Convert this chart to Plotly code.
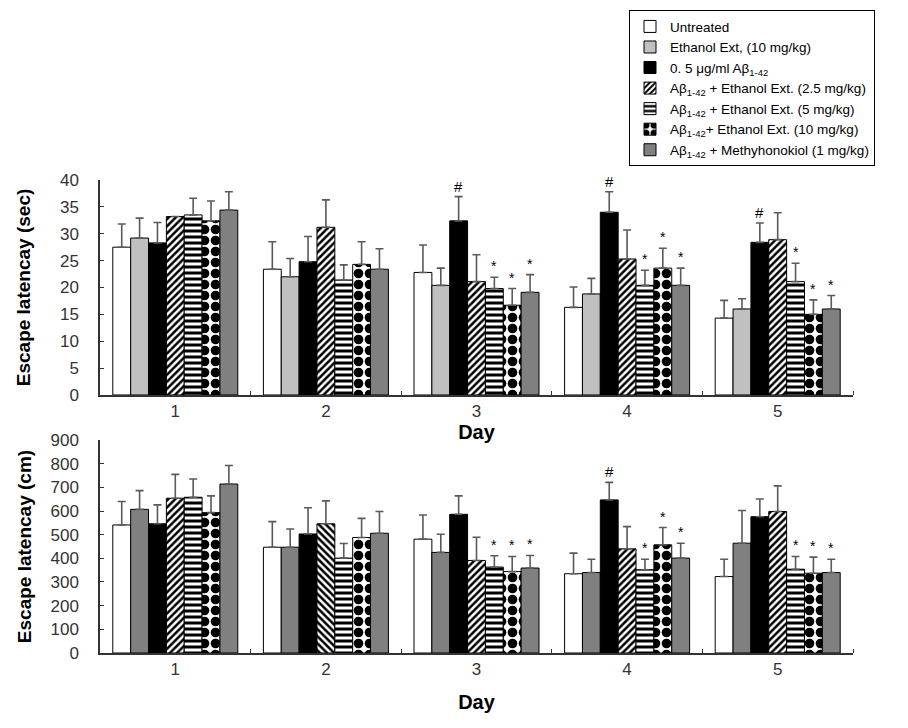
import plotly.graph_objects as go

days = [1, 2, 3, 4, 5]
series_names = [
    "Untreated",
    "Ethanol Ext, (10 mg/kg)",
    "0. 5 μg/ml Aβ<sub>1-42</sub>",
    "Aβ<sub>1-42</sub> + Ethanol Ext. (2.5 mg/kg)",
    "Aβ<sub>1-42</sub> + Ethanol Ext. (5 mg/kg)",
    "Aβ<sub>1-42</sub>+ Ethanol Ext. (10 mg/kg)",
    "Aβ<sub>1-42</sub> + Methyhonokiol (1 mg/kg)",
]

# Escape latency (sec) means and SD (upper error)
sec_untreated = [27.5, 23.4, 22.8, 16.3, 14.3]
sec_ethanol = [29.2, 22.0, 20.4, 18.8, 16.0]
sec_abeta = [28.3, 24.8, 32.4, 34.0, 28.4]
sec_ee25 = [33.2, 31.2, 21.1, 25.3, 28.9]
sec_ee5 = [33.5, 21.4, 19.8, 20.4, 21.1]
sec_ee10 = [32.4, 24.3, 16.7, 23.6, 15.0]
sec_mh = [34.4, 23.4, 19.1, 20.4, 16.0]

sec_err_untreated = [4.3, 5.1, 5.1, 3.8, 3.3]
sec_err_ethanol = [3.7, 3.4, 3.2, 2.9, 1.9]
sec_err_abeta = [3.8, 4.7, 4.5, 3.8, 3.6]
sec_err_ee25 = [None, 5.1, 5.0, 5.4, 5.0]
sec_err_ee5 = [3.1, 2.8, 2.1, 2.8, 3.4]
sec_err_ee10 = [3.7, 4.2, 3.1, 3.7, 2.7]
sec_err_mh = [3.4, 3.8, 3.3, 3.2, 2.5]

sec_marks_abeta = ["", "", "#", "#", "#"]
sec_marks_ee5 = ["", "", "*", "*", "*"]
sec_marks_ee10 = ["", "", "*", "*", "*"]
sec_marks_mh = ["", "", "*", "*", "*"]

# Escape latency (cm) means and SD
cm_untreated = [541, 447, 481, 335, 323]
cm_ethanol = [607, 447, 425, 340, 464]
cm_abeta = [546, 503, 586, 647, 576]
cm_ee25 = [654, 546, 391, 440, 598]
cm_ee5 = [658, 401, 363, 352, 354]
cm_ee10 = [593, 488, 344, 457, 337]
cm_mh = [714, 506, 359, 401, 340]

cm_err_untreated = [99, 108, 102, 87, 73]
cm_err_ethanol = [79, 77, 77, 56, 138]
cm_err_abeta = [80, 111, 78, 74, 75]
cm_err_ee25 = [101, 97, 98, 94, 108]
cm_err_ee5 = [77, 62, 48, 44, 54]
cm_err_ee10 = [71, 81, 64, 73, 68]
cm_err_mh = [78, 92, 53, 63, 56]

cm_marks_abeta = ["", "", "", "#", ""]
cm_marks_ee5 = ["", "", "*", "*", "*"]
cm_marks_ee10 = ["", "", "*", "*", "*"]
cm_marks_mh = ["", "", "*", "*", "*"]

sec_means = [sec_untreated, sec_ethanol, sec_abeta, sec_ee25, sec_ee5, sec_ee10, sec_mh]
sec_errs = [sec_err_untreated, sec_err_ethanol, sec_err_abeta, sec_err_ee25, sec_err_ee5, sec_err_ee10, sec_err_mh]
sec_marks = [None, None, sec_marks_abeta, None, sec_marks_ee5, sec_marks_ee10, sec_marks_mh]
cm_means = [cm_untreated, cm_ethanol, cm_abeta, cm_ee25, cm_ee5, cm_ee10, cm_mh]
cm_errs = [cm_err_untreated, cm_err_ethanol, cm_err_abeta, cm_err_ee25, cm_err_ee5, cm_err_ee10, cm_err_mh]
cm_marks = [None, None, cm_marks_abeta, None, cm_marks_ee5, cm_marks_ee10, cm_marks_mh]

# styles
LIGHT = "#c0c0c0"
DARK = "#808080"
def pat(shape, size, solidity):
    return dict(shape=shape, fgcolor="black", bgcolor="white", fgopacity=1,
                size=size, solidity=solidity, fillmode="replace")

top_styles = [
    dict(color="white"),
    dict(color=LIGHT),
    dict(color="black"),
    dict(color="white", pattern=pat("/", 5, 0.5)),
    dict(color="white", pattern=pat("-", 6, 0.5)),
    dict(color="white", pattern=pat(".", 11, 0.6)),
    dict(color=DARK),
]

BARGAP = 0.17
N = 7
bw = (1 - BARGAP) / N

fig = go.Figure()

def add_panel(means, errs, marks, xa, ya, bottom):
    for i, (m, e) in enumerate(zip(means, errs)):
        st = dict(top_styles[i])
        if bottom and i == 1:
            st = dict(color=DARK)
        if bottom and i == 3:
            st = dict(color="white", pattern=pat(["/", "\\", "/", "/", "/"], 5, 0.5))
        st["line"] = dict(color="black", width=1)
        fig.add_trace(go.Bar(
            x=days, y=m, name=series_names[i], marker=st,
            xaxis=xa, yaxis=ya, showlegend=not bottom, legendgroup=str(i),
            error_y=dict(type="data", array=[v if v is not None else 0 for v in e],
                         arrayminus=[0] * 5, symmetric=False,
                         color="#5a5a5a", thickness=1.6, width=4,
                         visible=True),
        ))
        if marks[i]:
            for d, mv, ev, mk in zip(days, m, e, marks[i]):
                if mk:
                    fig.add_annotation(
                        x=d + (i - (N - 1) / 2) * bw, y=mv + (ev or 0),
                        xref=xa, yref=ya, text=mk, showarrow=False,
                        yanchor="bottom", yshift=1 if mk == "*" else 0,
                        font=dict(size=15 if mk == "#" else 14, color="black",
                                  family="Liberation Sans, Arial"),
                    )

add_panel(sec_means, sec_errs, sec_marks, "x", "y", False)
add_panel(cm_means, cm_errs, cm_marks, "x2", "y2", True)

axis_font = dict(family="Liberation Sans, Arial", size=17, color="#333333")
xcommon = dict(
    range=[0.5, 5.5], tickvals=days, ticktext=[str(d) for d in days],
    showline=True, linecolor="#333333", linewidth=1.5, ticks="", tickfont=axis_font,
    showgrid=False, zeroline=False,
    minor=dict(tickvals=[1.5, 2.5, 3.5, 4.5, 5.5], ticks="inside", ticklen=4,
               tickcolor="#333333", showgrid=False),
)
ycommon = dict(
    showline=True, linecolor="#333333", linewidth=1.5, ticks="inside", ticklen=4,
    tickcolor="#333333", tickfont=axis_font, showgrid=False, zeroline=False,
    ticklabelstandoff=16,
)
title_font = dict(family="Liberation Sans, Arial", size=19, color="black")

fig.update_layout(
    width=900, height=720,
    paper_bgcolor="white", plot_bgcolor="white",
    margin=dict(l=92, r=55, t=172, b=75, autoexpand=False),
    barmode="group", bargap=BARGAP, bargroupgap=0,
    font=dict(family="Liberation Sans, Arial", color="black"),
    xaxis=dict(domain=[0, 1], anchor="y",
               title=dict(text="<b>Day</b>", standoff=5, font=dict(title_font, size=20)),
               **xcommon),
    xaxis2=dict(domain=[0, 1], anchor="y2",
                title=dict(text="<b>Day</b>", standoff=17, font=dict(title_font, size=20)),
                **xcommon),
    yaxis=dict(domain=[0.5455, 1], anchor="x", range=[0, 40], dtick=5,
               title=dict(text="<b>Escape latencay (sec)</b>", standoff=24, font=title_font),
               **ycommon),
    yaxis2=dict(domain=[0, 0.4503], anchor="x2", range=[0, 900], dtick=100,
                title=dict(text="<b>Escape latencay (cm)</b>", standoff=14, font=title_font),
                **ycommon),
    legend=dict(
        xref="container", yref="container",
        x=0.69, y=0.997, xanchor="left", yanchor="top",
        bordercolor="black", borderwidth=1, bgcolor="white",
        font=dict(family="Liberation Sans, Arial", size=13.5, color="black"),
        tracegroupgap=0, traceorder="normal", entrywidth=250,
    ),
)

fig.write_html("out.html")
